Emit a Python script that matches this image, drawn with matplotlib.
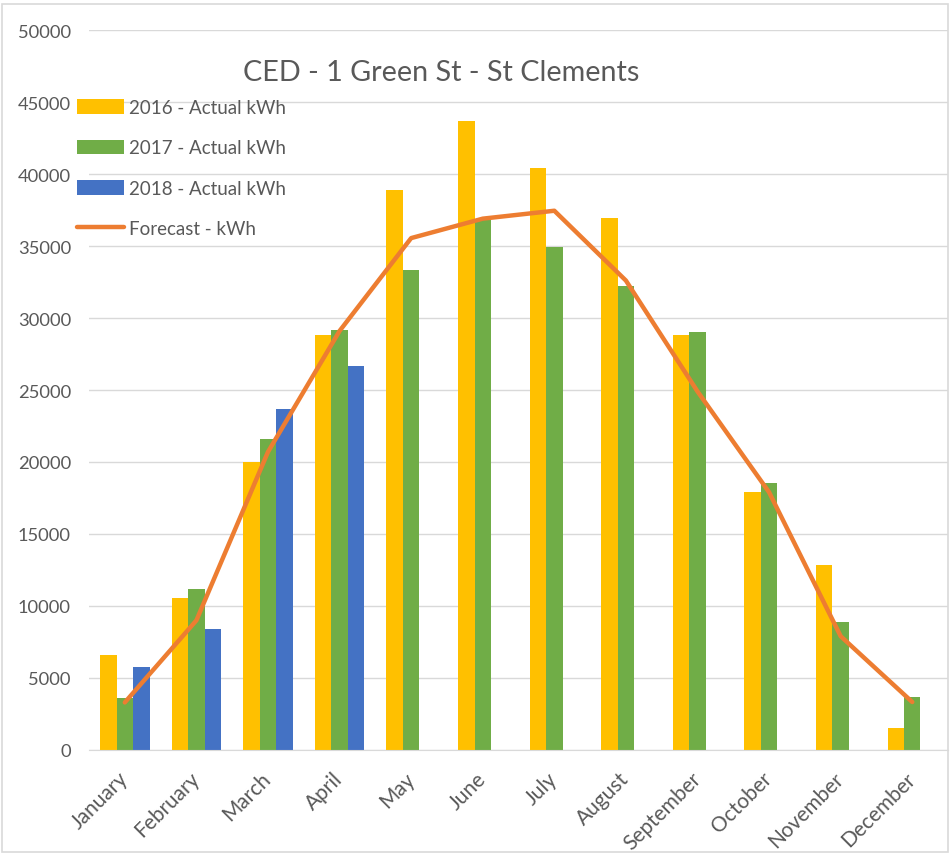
import numpy as np
import matplotlib
matplotlib.use('Agg')
from matplotlib import pyplot as plt
from matplotlib.patches import Rectangle

plt.rcParams['font.family'] = ['Lato', 'DejaVu Sans']

months = ['January', 'February', 'March', 'April', 'May', 'June', 'July',
          'August', 'September', 'October', 'November', 'December']
actual_2016 = [6600, 10550, 20000, 28800, 38900, 43700, 40450, 36950, 28850, 17950, 12850, 1500]
actual_2017 = [3600, 11200, 21600, 29150, 33300, 36850, 34900, 32200, 29050, 18550, 8900, 3700]
actual_2018 = [5750, 8400, 23650, 26650, np.nan, np.nan, np.nan, np.nan, np.nan, np.nan, np.nan, np.nan]
forecast = [3300, 9000, 20700, 29100, 35550, 36900, 37450, 32600, 24900, 17900, 7900, 3330]

yellow = '#FFC000'
green = '#70AD47'
blue = '#4472C4'
orange = '#ED7D31'
grey_txt = '#595959'

fig = plt.figure(figsize=(9.51, 8.62), dpi=100)
ax = fig.add_axes([0.0936, 0.1288, 0.9033, 0.8352])

x = np.arange(len(months))
w = 0.23
b16 = ax.bar(x - w, actual_2016, w, color=yellow, label='2016 - Actual kWh', zorder=2)
b17 = ax.bar(x, actual_2017, w, color=green, label='2017 - Actual kWh', zorder=2)
b18 = ax.bar(x + w, actual_2018, w, color=blue, label='2018 - Actual kWh', zorder=2)
ln, = ax.plot(x, forecast, color=orange, lw=3.2, label='Forecast - kWh', zorder=3,
              solid_joinstyle='round', solid_capstyle='round')

ax.set_xlim(-0.5, 11.5)
ax.set_ylim(0, 50000)
ax.set_yticks(np.arange(0, 50001, 5000))
ax.yaxis.grid(True, color='#D9D9D9', lw=1)
ax.set_axisbelow(True)
for s in ['top', 'right', 'left']:
    ax.spines[s].set_visible(False)
ax.spines['bottom'].set_color('#D9D9D9')
ax.tick_params(axis='both', length=0, colors=grey_txt)
ax.tick_params(axis='y', pad=13, labelsize=13.2)
ax.set_xticks(x)
ax.set_xticklabels(months, rotation=45, ha='right', va='center', rotation_mode='anchor')
ax.tick_params(axis='x', pad=18, labelsize=15)

fig.text(0.4637, 0.915, 'CED - 1 Green St - St Clements', fontsize=20.7,
         color=grey_txt, ha='center', va='center')

ax.legend(handles=[b16, b17, b18, ln], loc='upper left', bbox_to_anchor=(0.081, 0.884),
          bbox_transform=fig.transFigure, frameon=False, fontsize=13.5, labelcolor=grey_txt,
          handlelength=2.5, handleheight=0.8, handletextpad=0.25, labelspacing=1.25,
          borderaxespad=0, borderpad=0)

# thin outline round the whole chart
fig.patches.append(Rectangle((0.002, 0.01), 0.995, 0.984, transform=fig.transFigure,
                             fill=False, edgecolor='#D9D9D9', lw=1.2))

fig.savefig('out.png', dpi=100)
